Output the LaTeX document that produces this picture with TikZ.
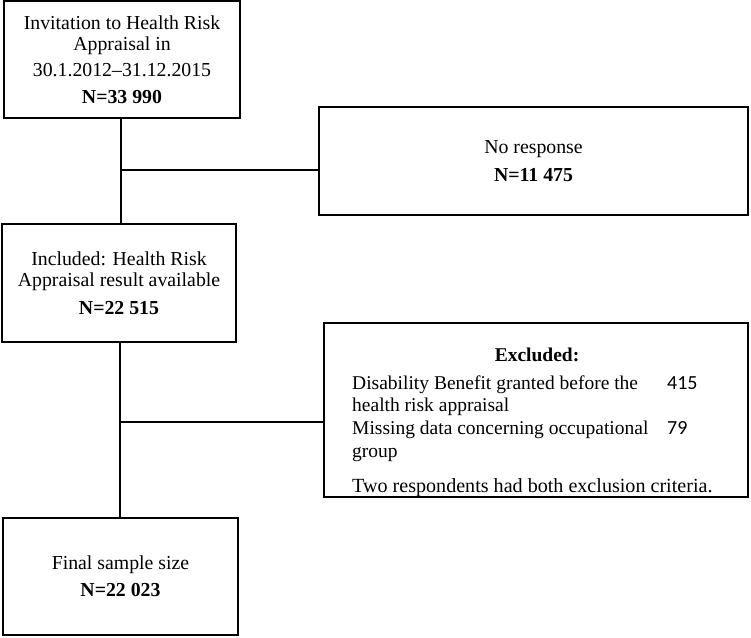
\documentclass[tikz,border=0pt]{standalone}
\usepackage{fontspec}
\setmainfont{Liberation Serif}
\newfontfamily\numfont{Carlito}
\begin{document}
\begin{tikzpicture}[x=1pt,y=-1pt,
  box/.style={draw,line width=1.6pt,rectangle,inner sep=0pt,align=center,
    font=\fontsize{19.8}{21}\selectfont},
  conn/.style={line width=1.5pt},
  txt/.style={inner sep=0pt,anchor=west,text height=13pt,text depth=4pt,
    font=\fontsize{19.5}{21}\selectfont}]
\useasboundingbox (0,0) rectangle (751,637);
\node[box,minimum width=236pt,minimum height=117pt] (b1) at (122,59.5)
  {Invitation to Health Risk\\Appraisal in\\[5.5pt]30.1.2012--31.12.2015\\[5.5pt]\textbf{N=33 990}};
\node[box,minimum width=429pt,minimum height=108pt] (nr) at (533.5,161)
  {No response\\[6.5pt]\textbf{N=11 475}};
\node[box,minimum width=234pt,minimum height=118pt] (b2) at (119,283)
  {Included: Health Risk\\Appraisal result available\\[6.5pt]\textbf{N=22 515}};
\node[box,minimum width=424pt,minimum height=174pt] (ex) at (536,410) {};
\node[box,minimum width=235pt,minimum height=117pt] (b4) at (120.5,576.5)
  {Final sample size\\[6pt]\textbf{N=22 023}};
% excluded contents
\node[txt,anchor=center] (exh) at (537,357) {\textbf{Excluded:}};
\node[txt] (e1) at (352,385) {Disability Benefit granted before the};
\node[txt] (e2) at (352,407) {health risk appraisal};
\node[txt] (e3) at (352,430) {Missing data concerning occupational};
\node[txt] (e4) at (352,453) {group};
\node[txt,font=\fontsize{20.1}{21}\selectfont] (e5) at (352,488) {Two respondents had both exclusion criteria.};
\node[txt,font=\numfont\fontsize{20}{21}\selectfont] (n1) at (667,385) {415};
\node[txt,font=\numfont\fontsize{20}{21}\selectfont] (n2) at (667,430) {79};
% connectors
\coordinate (j1) at (121,170);
\coordinate (j2) at (120,422);
\draw[conn] (j1 |- b1.south) -- (j1 |- b2.north);
\draw[conn] (j1) -- (j1 -| nr.west);
\draw[conn] (j2 |- b2.south) -- (j2 |- b4.north);
\draw[conn] (j2) -- (j2 -| ex.west);
\end{tikzpicture}
\end{document}
